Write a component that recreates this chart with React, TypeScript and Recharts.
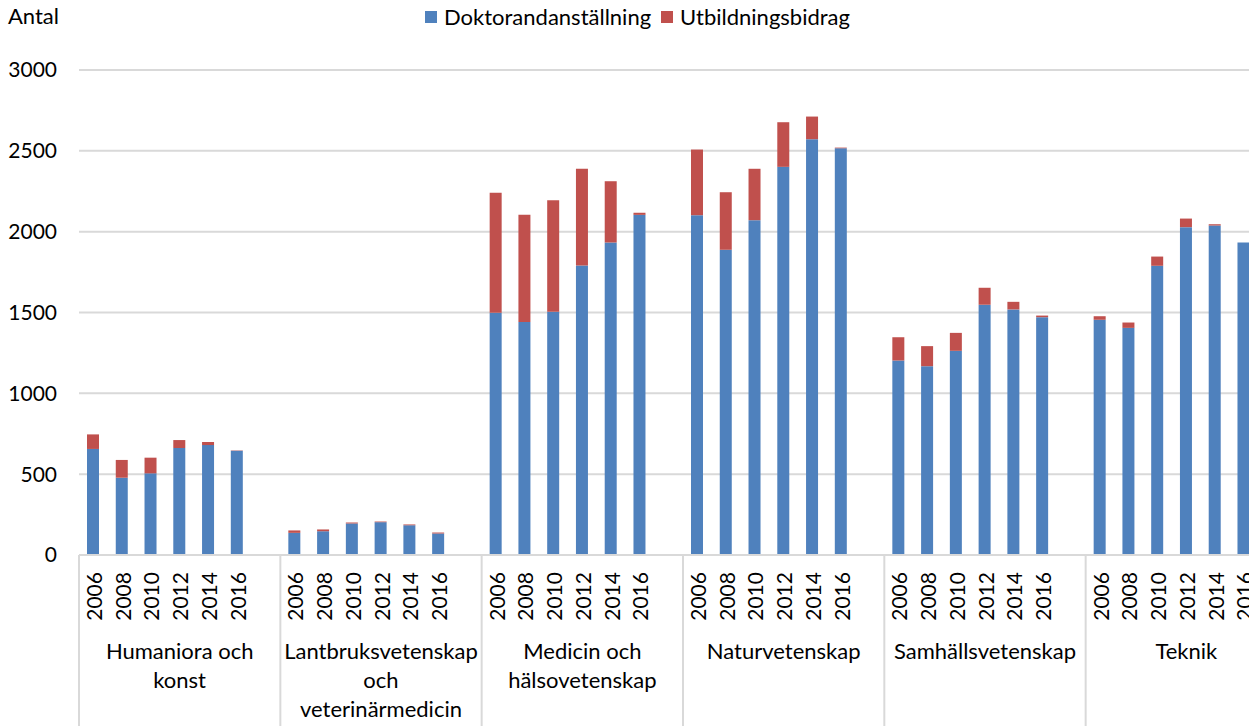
import { Bar, BarChart, CartesianGrid, Legend, XAxis, YAxis } from "recharts";

const BLUE = "#4f81bd";
const RED = "#c0504d";
const GRID = "#d9d9d9";
const FONT = "Lato, 'Noto Sans', sans-serif";

const YEARS = ["2006", "2008", "2010", "2012", "2014", "2016"];
const GROUPS = [
  "Humaniora och konst",
  "Lantbruksvetenskap och veterinärmedicin",
  "Medicin och hälsovetenskap",
  "Naturvetenskap",
  "Samhällsvetenskap",
  "Teknik",
];
// how each group label wraps under the axis
const GROUP_LINES = [
  ["Humaniora och", "konst"],
  ["Lantbruksvetenskap", "och", "veterinärmedicin"],
  ["Medicin och", "hälsovetenskap"],
  ["Naturvetenskap"],
  ["Samhällsvetenskap"],
  ["Teknik"],
];

const DOKTORAND = [
  [656, 478, 505, 662, 680, 645],
  [137, 147, 195, 203, 184, 133],
  [1498, 1442, 1504, 1791, 1933, 2104],
  [2102, 1888, 2071, 2401, 2572, 2516],
  [1203, 1168, 1263, 1548, 1519, 1471],
  [1455, 1405, 1789, 2028, 2038, 1933],
];
const BIDRAG = [
  [90, 110, 97, 49, 19, 2],
  [15, 11, 6, 4, 5, 6],
  [742, 662, 691, 598, 379, 13],
  [406, 356, 318, 276, 140, 4],
  [144, 124, 111, 105, 47, 10],
  [22, 33, 57, 53, 8, 0],
];
const Y_TICKS = [0, 500, 1000, 1500, 2000, 2500, 3000];

const SLOTS = YEARS.length + 1; // one empty slot after each group

type Row = { key: string; year: string; group: number; slot: number; dok?: number; bid?: number };

const data: Row[] = GROUPS.flatMap((_, g) => [
  ...YEARS.map((year, i) => ({
    key: `${g}-${year}`,
    year,
    group: g,
    slot: i,
    dok: DOKTORAND[g][i],
    bid: BIDRAG[g][i],
  })),
  { key: `${g}-gap`, year: "", group: g, slot: SLOTS - 1 },
]);

const WIDTH = 1287;
const HEIGHT = 726;
const LEFT = 79;
const TOP = 70;
const X_AXIS_H = 171;
const BAND = (WIDTH - LEFT) / data.length;

function CategoryTick(props: any) {
  const { x, y, index } = props;
  const row = data[index];
  if (!row) return null;
  const axisY = y;
  return (
    <g>
      {row.slot === 0 && (
        <line x1={x - BAND / 2} x2={x - BAND / 2} y1={axisY} y2={axisY + X_AXIS_H} stroke={GRID} strokeWidth={2} />
      )}
      {row.year && (
        <text
          x={x}
          y={axisY + 17}
          transform={`rotate(-90, ${x}, ${axisY + 17})`}
          textAnchor="end"
          dominantBaseline="central"
          fontSize={21}
          fontFamily={FONT}
          fill="#000"
        >
          {row.year}
        </text>
      )}
      {row.slot === 3 &&
        GROUP_LINES[row.group].map((line, i) => (
          <text
            key={i}
            x={x}
            y={axisY + 104 + i * 29}
            textAnchor="middle"
            fontSize={22}
            fontFamily={FONT}
            fill="#000"
          >
            {line}
          </text>
        ))}
    </g>
  );
}

function LegendContent() {
  const items = [
    { label: "Doktorandanställning", color: BLUE },
    { label: "Utbildningsbidrag", color: RED },
  ];
  return (
    <div style={{ display: "flex", justifyContent: "center", fontFamily: FONT, fontSize: 22, color: "#000" }}>
      {items.map((it) => (
        <div key={it.label} style={{ display: "flex", alignItems: "center", marginRight: 10 }}>
          <span style={{ width: 12, height: 12, background: it.color, marginRight: 7, display: "inline-block" }} />
          <span>{it.label}</span>
        </div>
      ))}
    </div>
  );
}

export default function App() {
  return (
    <div
      style={{
        position: "absolute",
        left: 0,
        top: 0,
        width: 1249,
        height: 726,
        overflow: "hidden",
        background: "#fff",
      }}
    >
      <div style={{ position: "absolute", left: 8, top: 2, fontFamily: FONT, fontSize: 22, color: "#000" }}>Antal</div>
      <BarChart
        width={WIDTH}
        height={HEIGHT}
        data={data}
        margin={{ top: TOP, right: 0, left: 0, bottom: 0 }}
        barSize={12}
      >
        <CartesianGrid vertical={false} stroke={GRID} strokeWidth={2} />
        <XAxis
          dataKey="key"
          interval={0}
          height={X_AXIS_H}
          tickLine={false}
          tickSize={0}
          tickMargin={0}
          axisLine={{ stroke: GRID, strokeWidth: 2 }}
          tick={<CategoryTick />}
        />
        <YAxis
          width={LEFT}
          domain={[0, 3000]}
          ticks={Y_TICKS}
          axisLine={false}
          tickLine={false}
          tickSize={0}
          tickMargin={22}
          tick={{ fill: "#000", fontSize: 21, fontFamily: FONT }}
        />
        <Legend
          verticalAlign="middle"
          wrapperStyle={{ top: 3, left: 0, width: 1285 }}
          content={<LegendContent />}
        />
        <Bar dataKey="dok" name="Doktorandanställning" stackId="a" fill={BLUE} isAnimationActive={false} />
        <Bar dataKey="bid" name="Utbildningsbidrag" stackId="a" fill={RED} isAnimationActive={false} />
      </BarChart>
    </div>
  );
}
